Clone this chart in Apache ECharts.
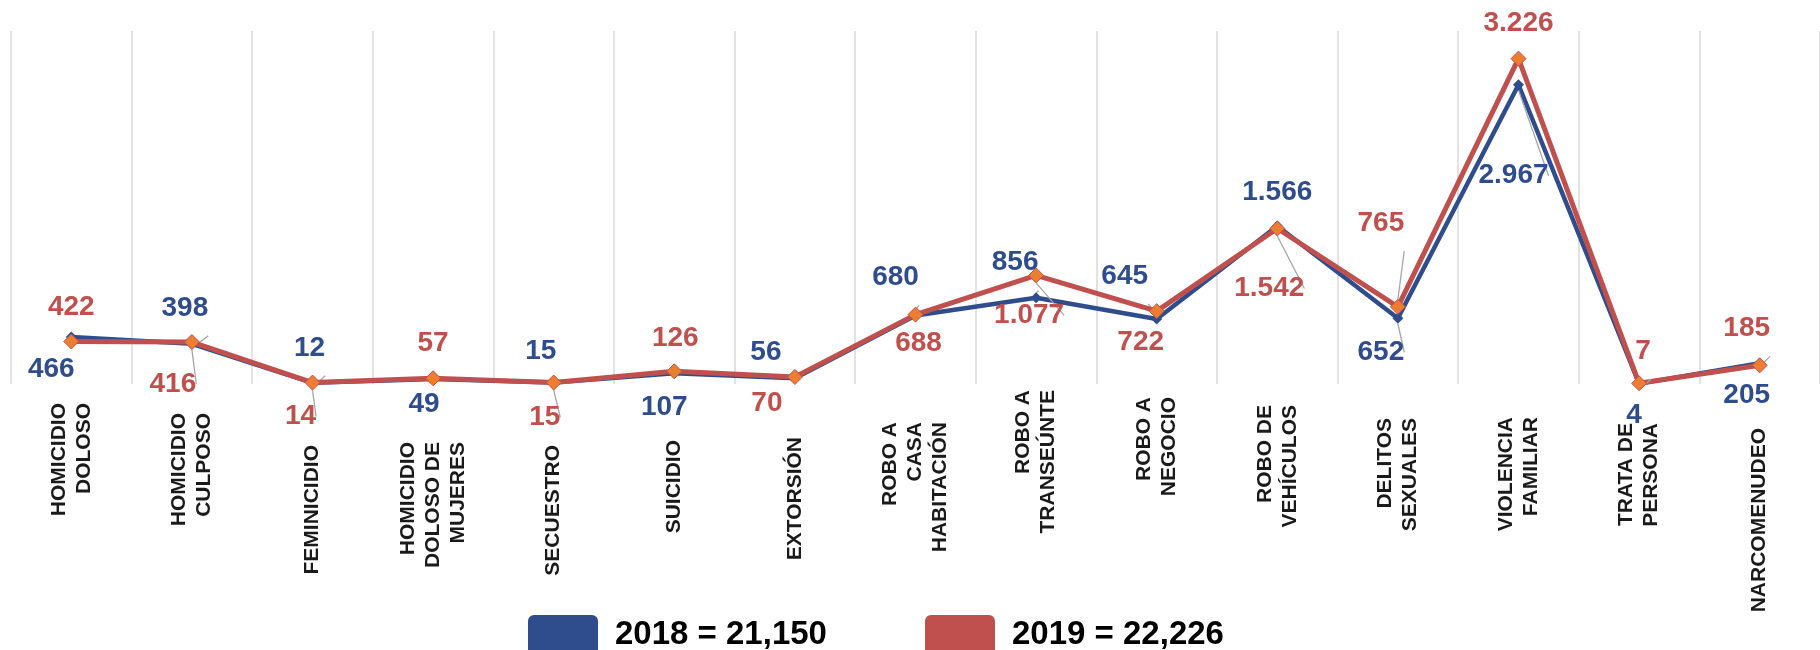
<!DOCTYPE html>
<html>
<head>
<meta charset="utf-8">
<script src="https://cdn.jsdelivr.net/npm/echarts@6/dist/echarts.min.js"></script>
<style>
  html, body { margin: 0; padding: 0; background: #ffffff; }
  #chart { width: 1820px; height: 650px; }
</style>
</head>
<body>
<div id="chart"></div>
<script>
// ---- data ----
const categories = [
  'HOMICIDIO\nDOLOSO', 'HOMICIDIO\nCULPOSO', 'FEMINICIDIO', 'HOMICIDIO\nDOLOSO DE\nMUJERES',
  'SECUESTRO', 'SUICIDIO', 'EXTORSIÓN', 'ROBO A\nCASA\nHABITACIÓN', 'ROBO A\nTRANSEÚNTE',
  'ROBO A\nNEGOCIO', 'ROBO DE\nVEHÍCULOS', 'DELITOS\nSEXUALES', 'VIOLENCIA\nFAMILIAR',
  'TRATA DE\nPERSONA', 'NARCOMENUDEO'
];
const values2018 = [466, 398, 12, 49, 15, 107, 56, 680, 856, 645, 1566, 652, 2967, 4, 205];
const values2019 = [422, 416, 14, 57, 15, 126, 70, 688, 1077, 722, 1542, 765, 3226, 7, 185];
const seriesNames = ['2018 = 21,150', '2019 = 22,226'];

// ---- label placement (style) ----
const labelOffsets2018 = [[-20, 32], [-7, -36], [-3, -35], [-9, 25], [-13, -31], [-10, 34], [-29, -26],
  [-20, -38], [-21, -35], [-32, -43], [0, -34], [-17, 34], [-5, 91], [-5, 32], [-13, 32]];
const labelOffsets2019 = [[0, -34], [-19, 42], [-12, 34], [0, -35], [-9, 35], [1, -33], [-28, 26],
  [3, 29], [-7, 40], [-16, 31], [-8, 60], [-17, -84], [0, -35], [4, -32], [-13, -37]];
const leader2018 = [0, 1, 1, 0, 0, 0, 0, 1, 1, 1, 0, 1, 1, 0, 0];
const leader2019 = [0, 1, 1, 0, 1, 0, 0, 0, 1, 0, 1, 1, 0, 1, 1];
const axisLabelShift = [13, 23, 55, 52, 55, 50, 47, 32, 0, 7, 15, 28, 27, 33, 38];

const BLUE = '#2f4d8c';
const RED = '#c0504d';
const ORANGE = '#ed7d31';
const FONT = "'Liberation Sans', Arial, sans-serif";

function fmt(v) {
  if (v >= 1000) {
    const r = v % 1000;
    return Math.floor(v / 1000) + '.' + String(r).padStart(3, '0');
  }
  return String(v);
}

function buildData(values, offsets, leaders) {
  return values.map((v, i) => ({
    value: v,
    label: { offset: offsets[i] },
    labelLine: { show: !!leaders[i] }
  }));
}

const chart = echarts.init(document.getElementById('chart'), null, { renderer: 'canvas' });

const legendIcon = 'path://M6,0 H64 A6,6 0 0 1 70,6 V34 A6,6 0 0 1 64,40 H6 A6,6 0 0 1 0,34 V6 A6,6 0 0 1 6,0 Z';

chart.setOption({
  animation: false,
  backgroundColor: '#ffffff',
  textStyle: { fontFamily: FONT },
  grid: { left: 11, right: -4, top: 31, bottom: 266, containLabel: false },
  legend: [
    {
      left: 523, top: 610, itemWidth: 70, itemHeight: 40, icon: legendIcon,
      data: [{ name: seriesNames[0], itemStyle: { color: BLUE, borderWidth: 0 } }],
      textStyle: { fontSize: 33, fontWeight: 'bold', color: '#000', fontFamily: FONT, padding: [0, 0, 0, 12] },
      selectedMode: false
    },
    {
      left: 920, top: 610, itemWidth: 70, itemHeight: 40, icon: legendIcon,
      data: [{ name: seriesNames[1], itemStyle: { color: RED, borderWidth: 0 } }],
      textStyle: { fontSize: 33, fontWeight: 'bold', color: '#000', fontFamily: FONT, padding: [0, 0, 0, 12] },
      selectedMode: false
    }
  ],
  xAxis: {
    type: 'category',
    boundaryGap: true,
    data: categories.map((c, i) => ({
      value: c,
      textStyle: { padding: [0, axisLabelShift[i], 0, 0] }
    })),
    axisLine: { show: false },
    axisTick: { show: false },
    splitLine: { show: true, lineStyle: { color: '#d9d9d9', width: 1.5 } },
    axisLabel: {
      interval: 0,
      rotate: 90,
      margin: 6,
      fontSize: 21,
      fontWeight: 'bold',
      lineHeight: 25,
      color: '#1a1a1a',
      fontFamily: FONT
    }
  },
  yAxis: {
    type: 'value',
    min: 0,
    max: 3500,
    interval: 500,
    show: false,
    splitLine: { show: false }
  },
  series: [
    {
      name: seriesNames[0],
      type: 'line',
      data: buildData(values2018, labelOffsets2018, leader2018),
      symbol: 'diamond',
      symbolSize: 11,
      itemStyle: { color: BLUE },
      lineStyle: { color: BLUE, width: 4.5 },
      label: {
        show: true,
        position: 'inside',
        formatter: p => fmt(p.value),
        fontSize: 28,
        fontWeight: 'bold',
        color: BLUE,
        fontFamily: FONT
      },
      labelLine: { show: false, lineStyle: { color: '#a6a6a6', width: 1.3 } },
      z: 2
    },
    {
      name: seriesNames[1],
      type: 'line',
      data: buildData(values2019, labelOffsets2019, leader2019),
      symbol: 'diamond',
      symbolSize: 15,
      itemStyle: { color: ORANGE, borderColor: RED, borderWidth: 1 },
      lineStyle: { color: RED, width: 5 },
      label: {
        show: true,
        position: 'inside',
        formatter: p => fmt(p.value),
        fontSize: 28,
        fontWeight: 'bold',
        color: RED,
        fontFamily: FONT
      },
      labelLine: { show: false, lineStyle: { color: '#a6a6a6', width: 1.3 } },
      z: 3
    }
  ]
});
</script>
</body>
</html>
